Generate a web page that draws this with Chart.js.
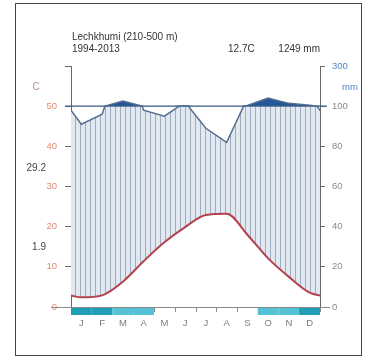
<!DOCTYPE html>
<html>
<head>
<meta charset="utf-8">
<script src="https://cdn.jsdelivr.net/npm/chart.js@4.4.1/dist/chart.umd.min.js"></script>
<style>
  html, body { margin: 0; padding: 0; background: #fff; }
  #wrap { position: relative; width: 368px; height: 361px; }
  #wrap canvas { position: absolute; left: 0; top: 0; }
  #frame { position: absolute; left: 15px; top: 3px; width: 347px; height: 353px;
           border: 1px solid #444; box-sizing: border-box; pointer-events: none; }
</style>
</head>
<body>
<div id="wrap">
  <canvas id="c" width="368" height="361"></canvas>
  <div id="frame"></div>
</div>
<script>
// Monthly climate normals
const months = ['J', 'F', 'M', 'A', 'M', 'J', 'J', 'A', 'S', 'O', 'N', 'D'];
const temperature = [2.4, 2.9, 6.3, 11.4, 16.1, 19.9, 22.9, 23.2, 18.0, 12.1, 7.5, 3.6];
const precipitation = [91, 96, 126, 98, 95, 102, 89, 82, 104, 140, 114, 105];
const frostSure = [1, 1, 0, 0, 0, 0, 0, 0, 0, 0, 0, 1];
const frostLikely = [0, 0, 1, 1, 0, 0, 0, 0, 0, 1, 1, 0];
const tempTicks = [0, 10, 20, 30, 40, 50, 60];
const tempTickLabels = ['0', '10', '20', '30', '40', '50', ''];
const rainTicksLow = [0, 20, 40, 60, 80, 100];
const rainTicksHigh = [100, 300];
const rainTickLabelsHigh = ['', '300'];

const station = 'Lechkhumi (210-500 m)';
const period = '1994-2013';
const meanTemp = '12.7C';
const annualRain = '1249 mm';
const warmMax = '29.2';
const coldMin = '1.9';

// Month values at month centres; Dec is repeated before Jan and Jan after Dec
// so the curves run continuously to both sides of the plot area.
const cyclic = arr => {
  const pts = arr.map((v, i) => ({ x: i + 0.5, y: v }));
  return [{ x: -0.5, y: arr[arr.length - 1] }, ...pts, { x: arr.length + 0.5, y: arr[0] }];
};

const canvas = document.getElementById('c');
const mainCtx = canvas.getContext('2d');

// vertical hatching used for the humid period
const hatch = (() => {
  const c = document.createElement('canvas');
  c.width = 5; c.height = 6;
  const g = c.getContext('2d');
  g.fillStyle = '#e2e8f0';
  g.fillRect(0, 0, 5, 6);
  g.fillStyle = '#9dadc2';
  g.fillRect(0, 0, 1, 6);
  return mainCtx.createPattern(c, 'repeat');
})();

const FONT = '"Liberation Sans", Arial, sans-serif';
const RAIN_LINE = '#566f8e';
const NONE = 'rgba(0,0,0,0)';

const decor = {
  id: 'decor',
  afterDatasetsDraw(chart) {
    const { ctx, scales: { x, y, rainLow } } = chart;
    const y100 = rainLow.getPixelForValue(100);
    const y0 = Math.round(y.getPixelForValue(0));
    ctx.save();
    // 100 mm reference line
    ctx.strokeStyle = '#3e5f86';
    ctx.lineWidth = 1.2;
    ctx.beginPath();
    ctx.moveTo(x.left - 6, y100);
    ctx.lineTo(x.right + 7, y100);
    ctx.stroke();
    // zero line
    ctx.strokeStyle = '#8a8a8a';
    ctx.lineWidth = 1;
    ctx.beginPath();
    ctx.moveTo(x.left - 20, y0 + 0.5);
    ctx.lineTo(x.right + 10, y0 + 0.5);
    ctx.stroke();
    // month boundary ticks
    for (let k = 0; k <= months.length; k++) {
      const px = Math.round(x.getPixelForValue(k)) + 0.5;
      ctx.beginPath();
      ctx.moveTo(px, y0);
      ctx.lineTo(px, y0 + 5);
      ctx.stroke();
    }
    // frost months
    months.forEach((m, i) => {
      if (!frostSure[i] && !frostLikely[i]) return;
      const a = x.getPixelForValue(i);
      const b = x.getPixelForValue(i + 1);
      ctx.fillStyle = frostSure[i] ? '#1f9db4' : '#55c2d6';
      ctx.fillRect(a, y0 + 1, b - a, 7);
    });
    ctx.restore();
  },
  afterDraw(chart) {
    const { ctx } = chart;
    ctx.save();
    ctx.textBaseline = 'middle';
    ctx.font = '10px ' + FONT;
    ctx.fillStyle = '#333';
    ctx.textAlign = 'left';
    ctx.fillText(station, 72, 37);
    ctx.fillText(period, 72, 49);
    ctx.fillText(meanTemp, 228, 49);
    ctx.textAlign = 'right';
    ctx.fillText(annualRain, 320, 49);
    ctx.fillStyle = '#444';
    ctx.fillText(warmMax, 46, 168);
    ctx.fillText(coldMin, 46, 247);
    ctx.textAlign = 'center';
    ctx.fillStyle = '#b58f88';
    ctx.fillText('C', 36, 87);
    ctx.textAlign = 'left';
    ctx.font = '9.5px ' + FONT;
    ctx.fillStyle = '#4f88c9';
    ctx.fillText('mm', 342, 87);
    ctx.restore();
  }
};

const rainAxisCommon = {
  position: 'right',
  stack: 'rain',
  afterFit(scale) { scale.width = 48; },
  grid: { drawOnChartArea: false, drawTicks: true, tickLength: 5, color: '#666' },
  border: { display: true, color: '#666', width: 1 }
};

new Chart(canvas, {
  type: 'line',
  data: {
    datasets: [
      {
        // mean monthly temperature
        data: cyclic(temperature),
        yAxisID: 'y',
        borderColor: '#b3424e',
        borderWidth: 2,
        cubicInterpolationMode: 'monotone',
        pointRadius: 0,
        fill: false
      },
      {
        // precipitation curve below 100 mm
        data: cyclic(precipitation),
        yAxisID: 'rainLow',
        borderColor: RAIN_LINE,
        borderWidth: 1.5,
        pointRadius: 0,
        fill: false
      },
      {
        // precipitation above 100 mm on the compressed scale, filled solid
        data: cyclic(precipitation),
        yAxisID: 'rainHigh',
        borderColor: RAIN_LINE,
        borderWidth: 1.5,
        pointRadius: 0,
        fill: { target: { value: 100 }, above: '#24569a', below: NONE }
      },
      {
        // blank out the linear-scale curve where it rises past 100 mm
        data: cyclic(precipitation),
        yAxisID: 'rainLow',
        borderWidth: 0,
        borderColor: NONE,
        pointRadius: 0,
        fill: { target: { value: 100 }, above: '#ffffff', below: NONE }
      },
      {
        // humid period between the two curves
        data: cyclic(precipitation),
        yAxisID: 'rainLow',
        borderWidth: 0,
        borderColor: NONE,
        pointRadius: 0,
        fill: { target: 0, above: hatch, below: hatch },
        backgroundColor: hatch
      }
    ]
  },
  options: {
    responsive: false,
    animation: false,
    events: [],
    layout: { padding: { top: 66, left: 0, right: 0, bottom: 0 } },
    plugins: { legend: { display: false }, tooltip: { enabled: false } },
    scales: {
      x: {
        type: 'linear',
        min: 0,
        max: 12,
        afterBuildTicks(scale) {
          scale.ticks = months.map((m, i) => ({ value: i + 0.5 }));
        },
        afterFit(scale) { scale.height = 54; },
        grid: { display: false, drawTicks: false },
        border: { display: false },
        ticks: {
          autoSkip: false,
          maxRotation: 0,
          padding: 11,
          color: '#7a7a7a',
          font: { family: FONT, size: 9.5 },
          callback: (v, i) => months[i]
        }
      },
      y: {
        position: 'left',
        min: 0,
        max: 60,
        afterFit(scale) { scale.width = 71; },
        afterBuildTicks(scale) { scale.ticks = tempTicks.map(v => ({ value: v })); },
        grid: { drawOnChartArea: false, drawTicks: true, tickLength: 6, color: '#666' },
        border: { display: true, color: '#666', width: 1 },
        ticks: {
          padding: 8,
          color: '#dd8a6c',
          font: { family: FONT, size: 9.5 },
          callback: (v, i) => tempTickLabels[i]
        }
      },
      rainHigh: {
        ...rainAxisCommon,
        stackWeight: 1,
        min: 100,
        max: 300,
        afterBuildTicks(scale) { scale.ticks = rainTicksHigh.map(v => ({ value: v })); },
        ticks: {
          padding: 7,
          color: '#4f88c9',
          font: { family: FONT, size: 9.5 },
          callback: (v, i) => rainTickLabelsHigh[i]
        }
      },
      rainLow: {
        ...rainAxisCommon,
        stackWeight: 5,
        min: 0,
        max: 100,
        afterBuildTicks(scale) { scale.ticks = rainTicksLow.map(v => ({ value: v })); },
        ticks: {
          padding: 7,
          color: '#8a8a8a',
          font: { family: FONT, size: 9.5 },
          callback: (v, i) => String(rainTicksLow[i])
        }
      }
    }
  },
  plugins: [decor]
});
</script>
</body>
</html>
